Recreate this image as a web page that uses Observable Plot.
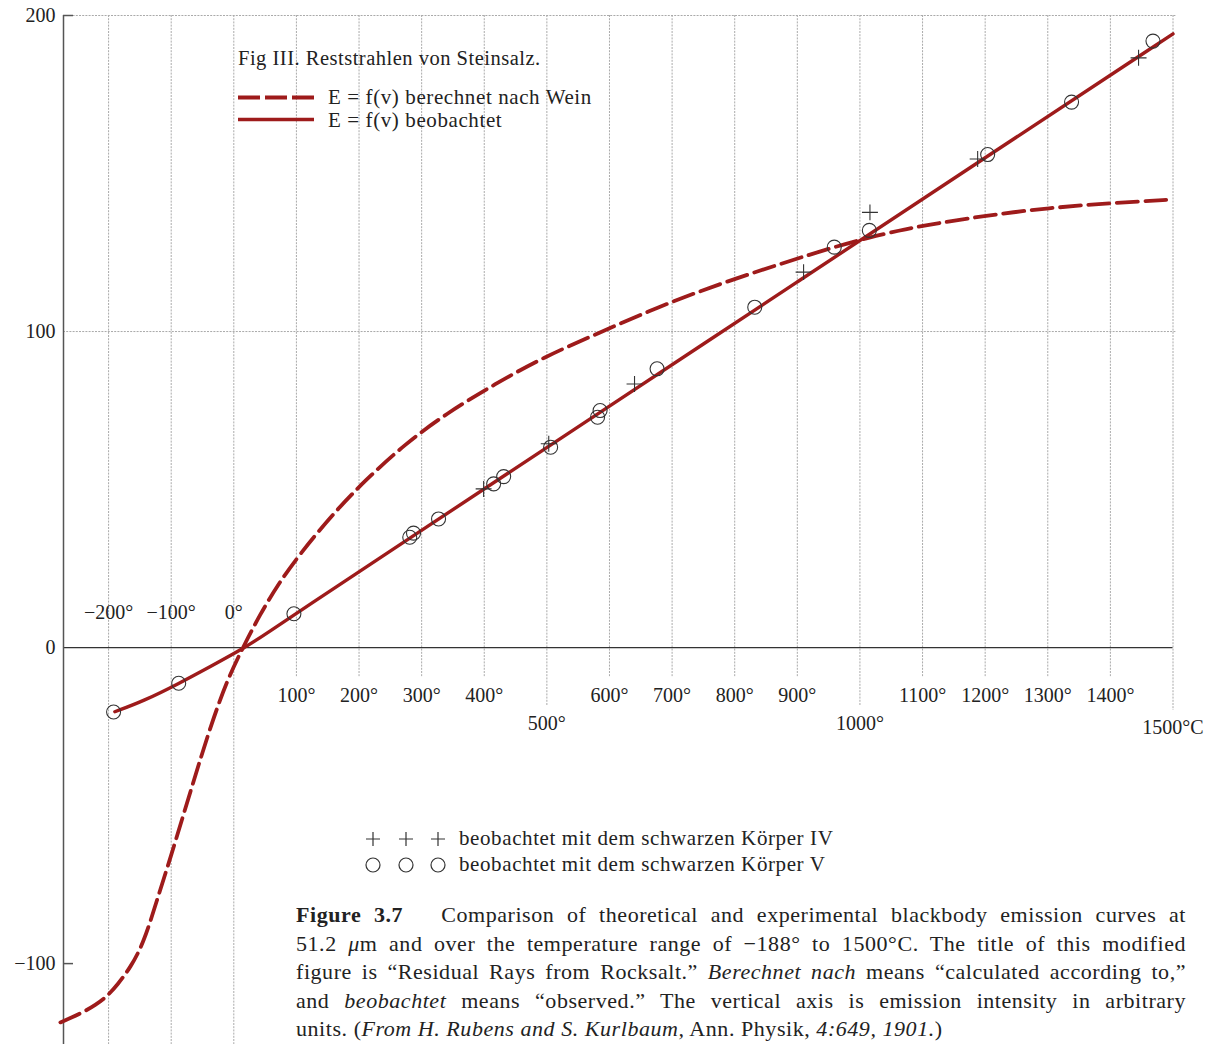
<!DOCTYPE html>
<html>
<head>
<meta charset="utf-8">
<script src="https://cdn.jsdelivr.net/npm/d3@7"></script>
<script src="https://cdn.jsdelivr.net/npm/@observablehq/plot@0.6"></script>
<style>
html, body { margin: 0; padding: 0; background: #fff; }
#wrap { position: relative; width: 1208px; height: 1044px; overflow: hidden; font-family: "Liberation Serif", serif; color: #222; }
#chart { position: absolute; left: 0; top: 0; }
.abs { position: absolute; white-space: nowrap; }
.cl { display: block; white-space: nowrap; }
.cl span.in { display: inline-block; }
</style>
</head>
<body>
<div id="wrap">
  <div id="chart"></div>
  <div id="overlay"></div>
</div>
<script>
// ---- data ----
// Wien curve: E = f(v) berechnet nach Wein
const wienT = [-277, -245, -220, -203, -185, -165, -144, -123, -101, -80, -59, -37.5, -11, 16, 42, 70, 105, 157, 209, 274, 339, 417, 495, 580, 678, 776, 873, 958, 1015, 1064, 1100, 1197, 1304, 1400, 1500];
const wienE = [-118.6, -115.9, -113.0, -110.5, -106.5, -101.2, -93.5, -80.1, -66.4, -52.6, -38.9, -25.2, -10.4, 0.6, 10.5, 19.8, 29.5, 42.0, 52.8, 64.5, 74.0, 83.4, 91.9, 99.3, 107.8, 115.1, 121.4, 126.7, 129.8, 132.0, 133.5, 136.6, 139.2, 140.6, 141.8];
// Observed curve: E = f(v) beobachtet
const obsT = [-190, -144, -88, -37.5, 18, 58, 100, 300, 600, 900, 1200, 1500];
const obsE = [-20.3, -16.9, -11.4, -6.0, 0.0, 5.2, 10.9, 37.1, 76.4, 115.7, 155.0, 194.2];
// Körper V (circles)
const circleT = [-192, -88, 96, 281, 287, 327, 415, 431, 506, 581, 585, 676, 832, 959, 1015, 1204, 1338, 1468];
const circleE = [-20.4, -11.3, 10.7, 34.9, 36.2, 40.7, 51.8, 54.1, 63.4, 72.9, 75.0, 88.2, 107.7, 126.7, 132.0, 156.0, 172.6, 191.9];
// Körper IV (plus)
const plusT = [399, 503, 640, 910, 1016, 1188, 1445];
const plusE = [50.2, 64.5, 83.4, 118.8, 137.7, 154.6, 186.6];
// x ticks (temperature, °C)
const xTicks = [-200, -100, 0, 100, 200, 300, 400, 500, 600, 700, 800, 900, 1000, 1100, 1200, 1300, 1400, 1500];
const xTickLabels = ["−200°", "−100°", "0°", "100°", "200°", "300°", "400°", "500°", "600°", "700°", "800°", "900°", "1000°", "1100°", "1200°", "1300°", "1400°", "1500°C"];
const xTickRows = ["top", "top", "top", "mid", "mid", "mid", "mid", "low", "mid", "mid", "mid", "mid", "low", "mid", "mid", "mid", "mid", "end"];
// y ticks
const yTicks = [200, 100, 0, -100];
const yTickLabels = ["200", "100", "0", "−100"];
// texts
const figTitle = "Fig III. Reststrahlen von Steinsalz.";
const lineLegend = ["E = f(v) berechnet nach Wein", "E = f(v) beobachtet"];
const markerLegend = ["beobachtet mit dem schwarzen Körper IV", "beobachtet mit dem schwarzen Körper V"];
const captionLines = [
  "<b>Figure 3.7</b>&nbsp;&nbsp; Comparison of theoretical and experimental blackbody emission curves at",
  "51.2 <i>μ</i>m and over the temperature range of −188° to 1500°C. The title of this modified",
  "figure is “Residual Rays from Rocksalt.” <i>Berechnet nach</i> means “calculated according to,”",
  "and <i>beobachtet</i> means “observed.” The vertical axis is emission intensity in arbitrary",
  "units. (<i>From H. Rubens and S. Kurlbaum,</i> Ann. Physik, <i>4:649, 1901.</i>)"
];

// ---- build ----
const red = "#9e1b1b";
const xMin = -272, xMax = 1500, yMin = -125.6, yMax = 200;
const wien = wienT.map((t, i) => ({t, e: wienE[i]}));
const obs = obsT.map((t, i) => ({t, e: obsE[i]}));
const circles = circleT.map((t, i) => ({t, e: circleE[i]}));
const pluses = plusT.map((t, i) => ({t, e: plusE[i]}));
const rowDy = {top: -35, mid: 48, low: 76, end: 80};
const rowGridEnd = {top: yMin, mid: -9.2, low: -18.4, end: -19.9};
const ticks = xTicks.map((t, i) => ({t, label: xTickLabels[i], row: xTickRows[i]}));
const yt = yTicks.map((v, i) => ({v, label: yTickLabels[i]}));

const marks = [
  Plot.ruleX(ticks, {x: "t", y1: yMax, y2: d => rowGridEnd[d.row], stroke: "#aaaaaa", strokeWidth: 1, strokeDasharray: "2,1.2"}),
  Plot.ruleY([200, 100], {x1: xMin, x2: 1505, stroke: "#aaaaaa", strokeWidth: 1, strokeDasharray: "2,1.2"}),
  Plot.ruleY([0], {x1: xMin, x2: xMax, stroke: "#333", strokeWidth: 1.3}),
  Plot.ruleX([xMin], {y1: yMin, y2: yMax, stroke: "#555", strokeWidth: 1.5}),
  Plot.ruleY([200, -100], {x1: xMin, x2: xMin + 16, stroke: "#555", strokeWidth: 1.5}),
  Plot.line(wien, {x: "t", y: "e", curve: "basis", stroke: red, strokeWidth: 3.8, strokeDasharray: "21,7.5"}),
  Plot.line(obs, {x: "t", y: "e", curve: "basis", stroke: red, strokeWidth: 3.4}),
  Plot.dot(circles, {x: "t", y: "e", r: 7, stroke: "#333", strokeWidth: 1.1, fill: "none"}),
  Plot.dot(pluses, {x: "t", y: "e", r: 5.2, symbol: "plus", stroke: "#333", strokeWidth: 1.1, fill: "none"}),
  ...["top", "mid", "low", "end"].map(row =>
    Plot.text(ticks.filter(d => d.row === row), {x: "t", y: 0, text: "label", dy: rowDy[row], fontSize: 20, fontFamily: "Liberation Serif", fill: "#222", textAnchor: "middle"})
  ),
  Plot.text(yt, {x: xMin, y: "v", text: "label", dx: -8, textAnchor: "end", fontSize: 20, fontFamily: "Liberation Serif", fill: "#222"})
];

const chart = Plot.plot({
  width: 1208, height: 1044,
  marginLeft: 63, marginRight: 35.5, marginTop: 15, marginBottom: 0,
  x: {domain: [xMin, xMax], axis: null},
  y: {domain: [yMin, yMax], axis: null},
  style: {background: "transparent", overflow: "visible"},
  marks
});
document.getElementById("chart").appendChild(chart);

// ---- overlay texts / legends ----
const ov = document.getElementById("overlay");
function add(html) { ov.insertAdjacentHTML("beforeend", html); }
add(`<div class="abs" style="left:238px;top:46px;font-size:20.5px;line-height:24px;letter-spacing:0.5px">${figTitle}</div>`);
add(`<svg class="abs" style="left:238px;top:94px" width="76" height="7"><line x1="0" y1="3.5" x2="76" y2="3.5" stroke="${red}" stroke-width="4" stroke-dasharray="22,5"/></svg>`);
add(`<svg class="abs" style="left:238px;top:116px" width="76" height="7"><line x1="0" y1="3.5" x2="76" y2="3.5" stroke="${red}" stroke-width="3.6"/></svg>`);
add(`<div class="abs" style="left:328px;top:85px;font-size:21px;line-height:24px;letter-spacing:0.6px">${lineLegend[0]}</div>`);
add(`<div class="abs" style="left:328px;top:108px;font-size:21px;line-height:24px;letter-spacing:0.6px">${lineLegend[1]}</div>`);
// marker legend
const symX = [373, 406, 438];
let s = `<svg class="abs" style="left:0;top:0" width="1208" height="1044">`;
symX.forEach(x => {
  s += `<path d="M${x-7},839H${x+7}M${x},832V846" stroke="#333" stroke-width="1.2" fill="none"/>`;
  s += `<circle cx="${x}" cy="865" r="7" stroke="#333" stroke-width="1.2" fill="none"/>`;
});
s += `</svg>`;
add(s);
add(`<div class="abs" style="left:459px;top:826px;font-size:21px;line-height:24px;letter-spacing:0.6px">${markerLegend[0]}</div>`);
add(`<div class="abs" style="left:459px;top:852px;font-size:21px;line-height:24px;letter-spacing:0.6px">${markerLegend[1]}</div>`);
// caption: each line justified to 890px by measured word spacing
const cap = document.createElement("div");
cap.className = "abs";
cap.style.cssText = "left:296px;top:901px;width:890px;font-size:22px;line-height:28.5px;letter-spacing:0.55px";
ov.appendChild(cap);
captionLines.forEach((html, i) => {
  const line = document.createElement("div");
  line.className = "cl";
  const inner = document.createElement("span");
  inner.className = "in";
  inner.innerHTML = html;
  line.appendChild(inner);
  cap.appendChild(line);
  if (i < captionLines.length - 1) {
    const w = inner.getBoundingClientRect().width;
    const spaces = (inner.textContent.match(/[ \u00a0]/g) || []).length;
    inner.style.wordSpacing = ((890 - w) / spaces) + "px";
  }
});
</script>
</body>
</html>
